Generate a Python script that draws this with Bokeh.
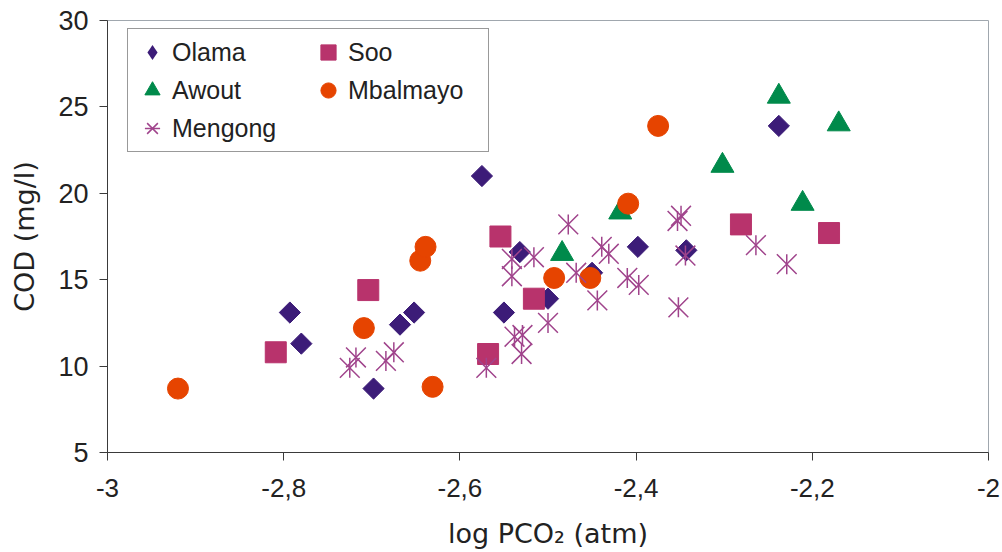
import math
from bokeh.plotting import figure
from bokeh.models import Legend, LegendItem, FixedTicker
from bokeh.embed import file_html
from bokeh.resources import INLINE

# ---- data ----
olama_x = [-2.793, -2.780, -2.698, -2.668, -2.652, -2.575, -2.550, -2.532, -2.500, -2.450, -2.398, -2.343, -2.238]
olama_y = [13.1, 11.3, 8.7, 12.4, 13.1, 21.0, 13.1, 16.6, 13.9, 15.4, 16.9, 16.7, 23.9]

soo_x = [-2.809, -2.704, -2.568, -2.554, -2.516, -2.281, -2.181]
soo_y = [10.8, 14.4, 10.7, 17.5, 13.9, 18.2, 17.7]

awout_x = [-2.484, -2.418, -2.302, -2.238, -2.211, -2.170]
awout_y = [16.5, 18.9, 21.6, 25.6, 19.4, 24.0]

mbal_x = [-2.920, -2.709, -2.645, -2.639, -2.631, -2.493, -2.452, -2.409, -2.375]
mbal_y = [8.7, 12.2, 16.1, 16.9, 8.8, 15.1, 15.1, 19.4, 23.9]

meng_x = [-2.725, -2.718, -2.684, -2.675, -2.570, -2.541, -2.541, -2.538, -2.529, -2.530,
          -2.516, -2.500, -2.477, -2.468, -2.444, -2.439, -2.431, -2.410, -2.397, -2.353,
          -2.349, -2.344, -2.352, -2.264, -2.229]
meng_y = [9.9, 10.5, 10.3, 10.8, 9.9, 16.2, 15.2, 11.7, 11.8, 10.7,
          16.3, 12.5, 18.2, 15.4, 13.8, 16.9, 16.5, 15.1, 14.7, 18.4,
          18.7, 16.4, 13.4, 17.0, 15.9]

series_names = ["Olama", "Soo", "Awout", "Mbalmayo", "Mengong"]

x_ticks = [-3, -2.8, -2.6, -2.4, -2.2, -2]
x_tick_labels = ["-3", "-2,8", "-2,6", "-2,4", "-2,2", "-2"]
y_ticks = [5, 10, 15, 20, 25, 30]

# ---- styles ----
C_OL = "#3c1c78"
C_SOO = "#b8336c"
C_AW = "#008a4b"
C_MB = "#e64400"
C_ME = "#a0448c"

p = figure(width=1000, height=552, x_range=(-3, -2), y_range=(5, 30),
           output_backend="svg", toolbar_location=None,
           min_border_left=107, min_border_right=12, min_border_top=20, min_border_bottom=100)
p.grid.visible = False
p.outline_line_color = "#a0a7ae"
p.outline_line_width = 1

r_ol = p.scatter(olama_x, olama_y, marker="square", angle=math.pi / 4, size=15,
                 fill_color=C_OL, line_color=C_OL)
# legend-only glyph (size 0 in the plot; the legend sizes its own glyph)
r_ol_leg = p.scatter(olama_x, olama_y, marker="diamond", size=0,
                     fill_color=C_OL, line_color=None)
r_soo = p.scatter(soo_x, soo_y, marker="square", size=21, fill_color=C_SOO, line_color=C_SOO)
r_aw = p.scatter(awout_x, awout_y, marker="triangle", size=23, fill_color=C_AW, line_color=C_AW)
r_mb = p.scatter(mbal_x, mbal_y, marker="circle", size=21, fill_color=C_MB, line_color=C_MB)
r_mx = p.scatter(meng_x, meng_y, marker="x", size=28, line_color=C_ME, line_width=1.5)
r_md = p.scatter(meng_x, meng_y, marker="dash", angle=math.pi / 2, size=20,
                 line_color=C_ME, line_width=1.5)

legend = Legend(
    items=[
        LegendItem(label=series_names[0], renderers=[r_ol_leg]),
        LegendItem(label=series_names[1], renderers=[r_soo]),
        LegendItem(label=series_names[2], renderers=[r_aw]),
        LegendItem(label=series_names[3], renderers=[r_mb]),
        LegendItem(label=series_names[4], renderers=[r_mx, r_md]),
    ],
    orientation="horizontal", ncols=2, location=(20, 300),
    glyph_width=40, glyph_height=38, padding=4, spacing=0,
    label_standoff=0, label_width=136, label_height=30, margin=0,
    label_text_font="Liberation Sans", label_text_font_size="25px",
    label_text_color="#222222",
    border_line_color="#333333", border_line_width=1,
    background_fill_color="white", background_fill_alpha=1,
)
p.add_layout(legend)

p.xaxis.ticker = FixedTicker(ticks=x_ticks)
p.xaxis.major_label_overrides = dict(zip(x_ticks, x_tick_labels))
p.yaxis.ticker = FixedTicker(ticks=y_ticks)

p.xaxis.axis_label = "log PCO\u2082 (atm)"
p.yaxis.axis_label = "COD (mg/l)"

for ax in (p.xaxis[0], p.yaxis[0]):
    ax.axis_line_color = "#3a3a3a"
    ax.axis_line_width = 1
    ax.major_tick_line_color = "#3a3a3a"
    ax.major_tick_out = 8
    ax.major_tick_in = 0
    ax.minor_tick_line_color = None
    ax.major_label_text_font = "Liberation Sans"
    ax.major_label_text_color = "#222222"
    ax.axis_label_text_font = "DejaVu Sans"
    ax.axis_label_text_font_style = "normal"
    ax.axis_label_text_font_size = "27px"
    ax.axis_label_text_color = "#222222"

p.xaxis.major_label_text_font_size = "26px"
p.yaxis.major_label_text_font_size = "27px"
p.xaxis.major_label_standoff = 18
p.yaxis.major_label_standoff = 11
p.xaxis.axis_label_standoff = 18
p.yaxis.axis_label_standoff = 15

open("out.html", "w").write(file_html(p, INLINE))
